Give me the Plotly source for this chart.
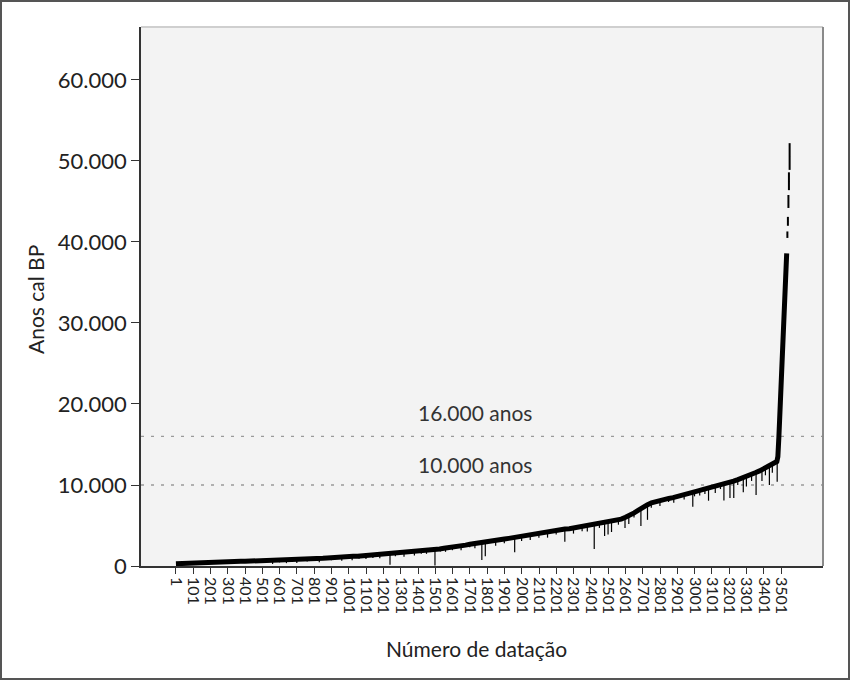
import plotly.graph_objects as go

# ---- data ----
date_number = [
    1, 26, 51, 76, 101, 126, 151, 176, 201, 226, 251, 276, 301, 326, 351, 376, 401, 426, 451, 476,
    501, 526, 551, 576, 601, 626, 651, 676, 701, 726, 751, 776, 801, 826, 851, 876, 901, 926, 951, 976,
    1001, 1026, 1051, 1076, 1101, 1126, 1151, 1176, 1201, 1226, 1251, 1276, 1301, 1326, 1351, 1376,
    1401, 1426, 1451, 1476, 1501, 1526, 1551, 1576, 1601, 1626, 1651, 1676, 1701, 1726, 1751, 1776,
    1801, 1826, 1851, 1876, 1901, 1926, 1951, 1976, 2001, 2026, 2051, 2076, 2101, 2126, 2151, 2176,
    2201, 2226, 2251, 2276, 2301, 2326, 2351, 2376, 2401, 2426, 2451, 2476, 2501, 2526, 2551, 2576,
    2601, 2626, 2651, 2676, 2701, 2726, 2751, 2776, 2801, 2826, 2851, 2876, 2901, 2926, 2951, 2976,
    3001, 3026, 3051, 3076, 3101, 3126, 3151, 3176, 3201, 3226, 3251, 3276, 3301, 3326, 3351, 3376,
    3401, 3426, 3451, 3476, 3482, 3486, 3488, 3492, 3496, 3500, 3504, 3508, 3513, 3518, 3523, 3528, 3533,
]
age_cal_bp = [
    280, 310, 320, 360, 400, 405, 445, 450, 470, 490, 495, 525, 530, 550, 545, 575, 580, 595, 600, 620,
    615, 645, 650, 670, 680, 705, 710, 735, 750, 790, 805, 855, 880, 915, 965, 1000, 1055, 1075, 1115, 1135,
    1170, 1210, 1215, 1255, 1280, 1305, 1355, 1385, 1425, 1465, 1525, 1560, 1625, 1655, 1715, 1745,
    1805, 1840, 1905, 1945, 2035, 2090, 2185, 2240, 2340, 2410, 2510, 2580, 2690, 2750, 2840, 2890,
    2990, 3050, 3160, 3220, 3330, 3410, 3510, 3580, 3690, 3770, 3880, 3950, 4060, 4120, 4240, 4300,
    4410, 4470, 4560, 4610, 4710, 4780, 4890, 4950, 5060, 5120, 5230, 5290, 5410, 5490, 5650, 5790,
    6010, 6240, 6560, 6890, 7260, 7540, 7810, 7970, 8130, 8220, 8340, 8440, 8610, 8770, 8960, 9070,
    9210, 9310, 9460, 9590, 9760, 9870, 10010, 10140, 10310, 10470, 10660, 10840, 11060, 11270, 11510, 11740,
    12010, 12240, 12560, 12900, 13500, 14500, 16000, 18000, 20000, 22100, 24500, 27000, 30400, 32500, 34600, 36600, 38600,
]

# downward spikes (individual dates with wide / lower ranges)
dip_number = [120, 180, 250, 330, 410, 470, 520, 560, 600, 640, 700, 760, 830, 900, 960,
              1020, 1060, 1100, 1140, 1180, 1239, 1270, 1320, 1380, 1420, 1450, 1499, 1530, 1560,
              1600, 1650, 1700, 1730, 1770, 1790, 1850, 1900, 1960, 2000, 2050, 2100, 2150, 2200,
              2250, 2300, 2350, 2380, 2420, 2450, 2480, 2500, 2520, 2560, 2598, 2620, 2650, 2690,
              2728, 2750, 2800, 2850, 2880, 2940, 2990, 3000, 3030, 3060, 3081, 3120, 3150, 3170,
              3205, 3227, 3250, 3282, 3300, 3330, 3356, 3390, 3410, 3433, 3450, 3478]
dip_top = [420, 460, 510, 560, 590, 620, 640, 650, 690, 700, 740, 820, 900, 1060, 1110,
           1190, 1230, 1280, 1340, 1390, 1500, 1560, 1650, 1750, 1850, 1890, 2000, 2100, 2190,
           2340, 2500, 2690, 2770, 2860, 2930, 3150, 3330, 3520, 3690, 3850, 4060, 4220, 4410,
           4550, 4700, 4890, 4980, 5120, 5230, 5300, 5400, 5480, 5700, 5980, 6150, 6560, 7000,
           7450, 7810, 8100, 8340, 8450, 8800, 9100, 9210, 9300, 9500, 9520, 9750, 10010, 10000,
           10280, 10450, 10660, 10880, 11050, 11300, 11530, 11850, 12100, 12300, 12560, 13200]
dip_low = [150, 200, 250, 300, 380, 400, 420, 250, 450, 350, 380, 550, 450, 700, 650,
           700, 900, 850, 1000, 950, 150, 1200, 1150, 1300, 1500, 1500, 60, 1800, 1750,
           1950, 1950, 2300, 2200, 740, 1200, 2500, 2800, 1700, 3100, 3200, 3500, 3500, 3900,
           3000, 4000, 4300, 4250, 2100, 4700, 3700, 3900, 4200, 5100, 4700, 5200, 6000, 4950,
           5700, 7200, 7400, 7900, 7800, 8200, 7300, 8600, 8700, 8900, 8060, 9000, 9500, 8100,
           8400, 8400, 10000, 9100, 9800, 10500, 8770, 10500, 11200, 10000, 11500, 10400]

# oldest dates, drawn as separate ranges
old_number = [3537, 3540, 3543, 3546, 3550]
old_age = [40900, 42550, 45000, 47500, 50550]
old_halfrange = [400, 550, 800, 1100, 1650]

x_tick_vals = list(range(1, 3502, 100))
x_tick_text = [str(v) for v in x_tick_vals]
y_tick_vals = [0, 10000, 20000, 30000, 40000, 50000, 60000]
y_tick_text = ["0", "10.000", "20.000", "30.000", "40.000", "50.000", "60.000"]
ref_lines = [16000, 10000]
ref_labels = ["16.000 anos", "10.000 anos"]
ref_label_value = [18900, 12470]

FONT = "Lato, 'Open Sans', sans-serif"
W, H = 850, 680
L, R, T, B = 141, 27, 27, 114
pw, ph = W - L - R, H - T - B


def px(xp):
    return (xp - L) / pw


def py(yp):
    return (H - B - yp) / ph


fig = go.Figure()

fig.add_trace(go.Scatter(
    x=dip_number, y=dip_top, mode="markers",
    marker=dict(size=1, color="black"),
    error_y=dict(type="data", symmetric=False,
                 array=[0] * len(dip_top),
                 arrayminus=[t - l for t, l in zip(dip_top, dip_low)],
                 color="black", thickness=1.2, width=0),
    hoverinfo="skip", showlegend=False))

fig.add_trace(go.Scatter(
    x=date_number, y=age_cal_bp, mode="lines",
    line=dict(color="black", width=5),
    showlegend=False))

fig.add_trace(go.Scatter(
    x=old_number, y=old_age, mode="markers",
    marker=dict(size=1, color="black"),
    error_y=dict(type="data", array=old_halfrange, color="black", thickness=2, width=0),
    showlegend=False))

for v in ref_lines:
    fig.add_shape(type="line", xref="paper", x0=0, x1=1, yref="y", y0=v, y1=v,
                  line=dict(color="#9a9a9a", width=1.3, dash="3px,7px"), layer="below")

for lab, v in zip(ref_labels, ref_label_value):
    fig.add_annotation(x=1730, y=v, xref="x", yref="y", text=lab, showarrow=False,
                       font=dict(family=FONT, size=21, color="#333333"),
                       xanchor="center", yanchor="middle")

# plot frame (top light, right grey)
fig.add_shape(type="line", xref="paper", yref="paper", x0=0, x1=1, y0=1, y1=1,
              line=dict(color="#cfcfcf", width=2))
fig.add_shape(type="line", xref="paper", yref="paper", x0=1, x1=1, y0=0, y1=1,
              line=dict(color="#8a8a8a", width=2))
# outer border
fig.add_shape(type="rect", xref="paper", yref="paper",
              x0=px(1), x1=px(849), y0=py(679), y1=py(1),
              line=dict(color="#555555", width=2))

# axis titles
fig.add_annotation(x=px(35), y=py(300), xref="paper", yref="paper", text="Anos cal BP",
                   textangle=-90, showarrow=False, xanchor="center", yanchor="middle",
                   font=dict(family=FONT, size=21, color="#222222"))
fig.add_annotation(x=px(476), y=py(648), xref="paper", yref="paper", text="Número de datação",
                   showarrow=False, xanchor="center", yanchor="middle",
                   font=dict(family=FONT, size=21, color="#222222"))

fig.update_layout(
    width=W, height=H,
    margin=dict(l=L, r=R, t=T, b=B, pad=0),
    paper_bgcolor="white", plot_bgcolor="#f3f3f3",
    font=dict(family=FONT, color="#222222"),
    showlegend=False,
    xaxis=dict(range=[-201, 3743], tickmode="array", tickvals=x_tick_vals, ticktext=x_tick_text,
               tickangle=90, tickfont=dict(size=16, family=FONT, color="#222222"),
               ticks="outside", ticklen=6, tickwidth=1.3, tickcolor="#333333",
               showline=True, linecolor="#333333", linewidth=1.5,
               showgrid=False, zeroline=False),
    yaxis=dict(range=[0, 66540], tickmode="array", tickvals=y_tick_vals, ticktext=y_tick_text,
               tickfont=dict(size=22, family=FONT, color="#222222"),
               ticks="outside", ticklen=8, tickwidth=1.3, tickcolor="#333333",
               showline=True, linecolor="#333333", linewidth=1.5,
               showgrid=False, zeroline=False),
)

fig.write_html("out.html", config={"displayModeBar": False},
               post_script="document.body.style.margin='0';")
